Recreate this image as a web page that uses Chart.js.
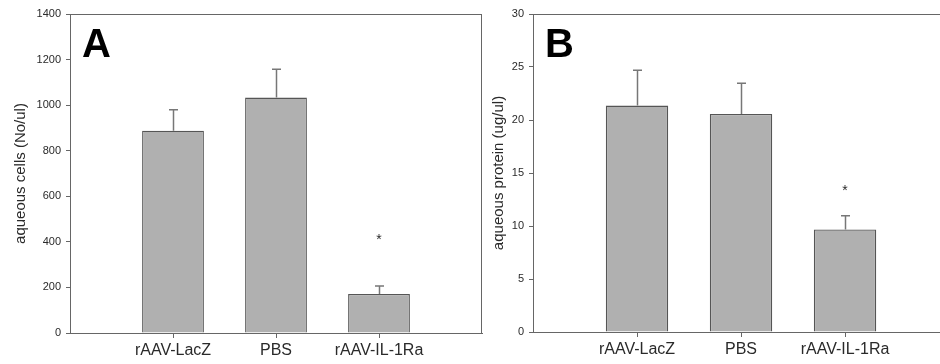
<!DOCTYPE html>
<html>
<head>
<meta charset="utf-8">
<script src="https://cdn.jsdelivr.net/npm/chart.js@4"></script>
<style>
  html, body { margin: 0; padding: 0; background: #fff; overflow: hidden; }
  #wrap { position: relative; width: 940px; height: 364px; }
  canvas { position: absolute; top: 0; }
  #cA { left: 0; }
  #cB { left: 470px; }
</style>
</head>
<body>
<div id="wrap">
  <canvas id="cA" width="490" height="364"></canvas>
  <canvas id="cB" width="470" height="364"></canvas>
</div>
<script>
// ---- data ----
const categories = ["rAAV-LacZ", "PBS", "rAAV-IL-1Ra"];
const cellsMean = [888, 1033, 171];
const cellsErr = [92, 125, 35];
const cellsStar = [null, null, 420];
const proteinMean = [21.36, 20.57, 9.67];
const proteinErr = [3.34, 2.9, 1.29];
const proteinStar = [null, null, 13.6];
const cellsTicks = [0, 200, 400, 600, 800, 1000, 1200, 1400];
const proteinTicks = [0, 5, 10, 15, 20, 25, 30];

const FONT = "'Liberation Sans', Arial, sans-serif";
const TXT = '#2a2a2a';
const AX = '#666';

const overlayPlugin = {
  id: 'overlay',
  afterDatasetsDraw(chart, args, opts) {
    const ctx = chart.ctx;
    const ca = chart.chartArea;
    const ys = chart.scales.y;
    const meta = chart.getDatasetMeta(0);
    ctx.save();
    // frame top & right
    ctx.strokeStyle = AX;
    ctx.lineWidth = 1;
    ctx.beginPath();
    ctx.moveTo(ca.left, ca.top + 0.5);
    ctx.lineTo(ca.right, ca.top + 0.5);
    if (opts.rightLine) {
      ctx.moveTo(ca.right - 0.5, ca.top);
      ctx.lineTo(ca.right - 0.5, ca.bottom);
    }
    ctx.stroke();
    // error bars
    ctx.strokeStyle = '#777';
    ctx.lineWidth = 1.5;
    meta.data.forEach((el, i) => {
      const v = opts.mean[i], e = opts.err[i];
      const yTop = ys.getPixelForValue(v + e);
      const x = Math.round(el.x) + 0.5;
      ctx.beginPath();
      ctx.moveTo(x, el.y);
      ctx.lineTo(x, yTop);
      ctx.moveTo(x - 4.5, yTop);
      ctx.lineTo(x + 4.5, yTop);
      ctx.stroke();
      if (opts.star[i] != null) {
        ctx.fillStyle = TXT;
        ctx.font = '14px ' + FONT;
        ctx.textAlign = 'center';
        ctx.textBaseline = 'middle';
        ctx.fillText('*', el.x, ys.getPixelForValue(opts.star[i]) + 3);
      }
    });
    // panel letter
    ctx.fillStyle = '#000';
    ctx.font = 'bold 40px ' + FONT;
    ctx.textAlign = 'left';
    ctx.textBaseline = 'alphabetic';
    ctx.fillText(opts.letter, ca.left + opts.letterDx, 57);
    ctx.restore();
  }
};

function makeChart(id, mean, err, star, ticks, yTitle, letter, cfg) {
  return new Chart(document.getElementById(id), {
    type: 'bar',
    data: {
      datasets: [{
        data: mean.map((v, i) => ({ x: i + 1, y: v })),
        backgroundColor: '#b0b0b0',
        borderColor: '#555',
        borderWidth: 1.3,
        barPercentage: 0.6,
        categoryPercentage: 1.0
      }]
    },
    options: {
      responsive: false,
      animation: false,
      devicePixelRatio: 1,
      layout: { padding: cfg.padding },
      plugins: {
        legend: { display: false },
        tooltip: { enabled: false },
        overlay: { mean, err, star, letter, letterDx: cfg.letterDx, rightLine: cfg.rightLine }
      },
      scales: {
        x: {
          type: 'linear',
          offset: false,
          min: 0,
          max: cfg.xMax,
          afterBuildTicks: s => { s.ticks = categories.map((c, i) => ({ value: i + 1 })); },
          afterFit: s => { s.height = cfg.xHeight; },
          ticks: {
            callback: (v) => categories[Math.round(v) - 1],
            font: { family: FONT, size: 16 },
            color: TXT,
            padding: 3,
            maxRotation: 0,
            autoSkip: false
          },
          grid: { offset: false, drawOnChartArea: false, drawTicks: true, tickLength: 5, color: AX },
          border: { color: AX, width: 1 }
        },
        y: {
          min: ticks[0],
          max: ticks[ticks.length - 1],
          afterBuildTicks: s => { s.ticks = ticks.map(v => ({ value: v })); },
          afterFit: s => { s.width = cfg.yWidth; },
          ticks: {
            callback: (v) => String(v),
            font: { family: FONT, size: 11 },
            color: TXT,
            padding: 5
          },
          grid: { drawOnChartArea: false, drawTicks: true, tickLength: 4, color: AX },
          border: { color: AX, width: 1 },
          title: {
            display: true,
            text: yTitle,
            font: { family: FONT, size: 15 },
            color: TXT,
            padding: { top: cfg.titlePad, bottom: 0 }
          }
        }
      }
    },
    plugins: [overlayPlugin]
  });
}

makeChart('cA', cellsMean, cellsErr, cellsStar, cellsTicks, 'aqueous cells (No/ul)', 'A',
  { padding: { left: 0, right: 8, top: 14, bottom: 0 }, xMax: 4, xHeight: 31, yWidth: 70, titlePad: 12, letterDx: 12, rightLine: true });
makeChart('cB', proteinMean, proteinErr, proteinStar, proteinTicks, 'aqueous protein (ug/ul)', 'B',
  { padding: { left: 0, right: 0, top: 14, bottom: 0 }, xMax: 3.913, xHeight: 32, yWidth: 63, titlePad: 20, letterDx: 12, rightLine: false });
</script>
</body>
</html>
